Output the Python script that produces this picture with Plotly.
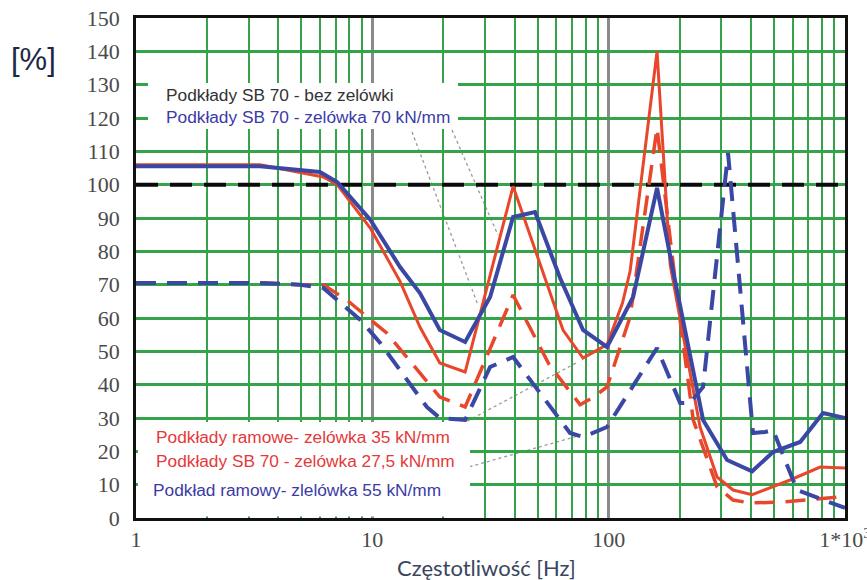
import plotly.graph_objects as go

# ---------------- data ----------------
ref_f = [1, 1000]
ref_v = [100, 100]  # Podkłady SB 70 - bez zelówki

sb70_70_f = [1, 3.35, 6.0, 7.1, 9.8, 13.1, 15.9, 19.3, 24.7, 31.5, 39.4, 48.8,
             62.3, 77.9, 98.4, 126.9, 160.2, 187, 250.9, 317, 404.6, 496, 646, 807, 1000]
sb70_70_v = [105.5, 105.5, 103.8, 100.8, 89.5, 75.3, 67.5, 56.4, 52.8, 66.3, 90.3, 91.8,
             72, 56.4, 51.3, 66.3, 99, 74.4, 29.4, 17.4, 14, 19.8, 22.8, 31.5, 30]

sb70_275_f = [1, 3.35, 6.2, 7.1, 9.8, 13.1, 15.9, 19.3, 24.7, 39.4, 64.1, 77.9, 98.4,
              114.4, 123.2, 160.2, 182, 243.6, 287.6, 336, 404.6, 586, 785, 1000]
sb70_275_v = [106, 106, 102.3, 100, 87, 71, 57.3, 46.5, 43.8, 99.5, 56.4, 48, 52,
              64.5, 74, 140, 76, 27.3, 12.3, 8.4, 7.0, 11.4, 15.3, 15]

ram35_f = [1, 3.35, 4.94, 6.2, 7.8, 11.5, 19.3, 24.7, 39.4, 56, 75.7, 85.1, 98.4,
           123.2, 160.2, 195, 228, 287.6, 336, 396, 547, 953]
ram35_v = [70.5, 70.5, 70, 70, 65.4, 55.5, 36.3, 33.3, 66.9, 46, 34, 36, 39.3,
           60.3, 117, 66, 29.4, 9.3, 5.4, 4.5, 4.8, 6.3]

ram55_f = [1, 3.35, 4.94, 6.2, 8.9, 10.8, 17.0, 19.3, 24.7, 31.5, 39.4, 68.6, 77.9,
           85.1, 98.4, 160.2, 200.6, 221, 250.9, 320, 408, 459, 496, 627, 807, 1000]
ram55_v = [70.5, 70.5, 70, 69, 59.4, 52.5, 33.3, 30, 29.4, 45.3, 48.3, 25.5, 24.3,
           25.5, 27.3, 51, 34.5, 34.5, 39.3, 109.5, 25.5, 25.8, 26.4, 8.4, 5.4, 3]

labels = [
    "Podkłady SB 70 - bez zelówki",
    "Podkłady SB 70 - zelówka 70 kN/mm",
    "Podkłady ramowe- zelówka 35 kN/mm",
    "Podkłady SB 70 - zelówka 27,5 kN/mm",
    "Podkład ramowy- zlelówka 55 kN/mm",
]

x_major = [1, 10, 100, 1000]
x_major_text = ["1", "10", "100", "1*10<sup>3</sup>"]
x_minor = [m * d for d in (1, 10, 100) for m in range(2, 10)]
y_ticks = list(range(0, 151, 10))

# ---------------- style ----------------
RED = "#e8472b"
BLUE = "#3a48a4"
BLACK = "#0a0a0a"
GREEN = "#34a349"
GRAY = "#8a8a8a"
TXT_RED = "#e43a3a"
TXT_BLUE = "#3b3ba6"

fig = go.Figure()
fig.add_trace(go.Scatter(x=ref_f, y=ref_v, mode="lines",
                         line=dict(color=BLACK, width=4, dash="22px,12px"), name=labels[0]))
fig.add_trace(go.Scatter(x=ram35_f, y=ram35_v, mode="lines",
                         line=dict(color=RED, width=3.5, dash="20px,11px"), name=labels[2]))
fig.add_trace(go.Scatter(x=sb70_275_f, y=sb70_275_v, mode="lines",
                         line=dict(color=RED, width=3), name=labels[3]))
fig.add_trace(go.Scatter(x=ram55_f, y=ram55_v, mode="lines",
                         line=dict(color=BLUE, width=4, dash="20px,11px"), name=labels[4]))
fig.add_trace(go.Scatter(x=sb70_70_f, y=sb70_70_v, mode="lines",
                         line=dict(color=BLUE, width=4), name=labels[1]))

L, R, T, B = 136, 22, 18, 62
W, H = 867, 580
PW, PH = W - L - R, H - T - B


def px(xp):
    return (xp - L) / PW


def py(yp):
    return (H - B - yp) / PH


shapes = []
# faint leader lines (beneath the grid)
for (a, b, c, d) in [(412, 132, 478, 305), (452, 130, 498, 235),
                     (462, 424, 578, 362), (458, 470, 578, 436)]:
    shapes.append(dict(type="line", xref="x domain", yref="y domain", layer="below",
                       x0=px(a), y0=py(b), x1=px(c), y1=py(d),
                       line=dict(color="#9a9a9a", width=1.3, dash="dot")))
# white label boxes covering the grid
shapes.append(dict(type="rect", xref="x domain", yref="y domain", layer="above",
                   x0=px(148), x1=px(458), y0=py(129), y1=py(83),
                   fillcolor="white", line=dict(width=0)))
shapes.append(dict(type="rect", xref="x domain", yref="y domain", layer="above",
                   x0=px(138), x1=px(470), y0=py(516.5), y1=py(422),
                   fillcolor="white", line=dict(width=0)))

annotations = []
leg_font = "Liberation Sans, Arial, sans-serif"
for text, xp, yp, col in [(labels[0], 164, 95, "#333333"),
                          (labels[1], 164, 117, TXT_BLUE),
                          (labels[2], 154, 437, TXT_RED),
                          (labels[3], 154, 461, TXT_RED),
                          (labels[4], 151, 490, TXT_BLUE)]:
    annotations.append(dict(text=text, xref="paper", yref="paper", x=px(xp), y=py(yp),
                            xanchor="left", yanchor="middle", showarrow=False,
                            font=dict(family=leg_font, size=17.3, color=col)))
annotations.append(dict(text="[%]", xref="paper", yref="paper", x=px(33), y=py(60),
                        xanchor="center", yanchor="middle", showarrow=False,
                        font=dict(family="Liberation Sans, Arial, sans-serif", size=31,
                                  color="#1c2846")))
annotations.append(dict(text="Częstotliwość [Hz]", xref="paper", yref="paper",
                        x=px(486), y=py(567), xanchor="center", yanchor="middle",
                        showarrow=False,
                        font=dict(family="Lato, Open Sans, sans-serif", size=22,
                                  color="#3a4660")))

tick_font = dict(family="Liberation Serif, Times New Roman, serif", size=22, color="#4a4a4a")

fig.update_layout(
    width=W, height=H,
    margin=dict(l=L, r=R, t=T, b=B, pad=0, autoexpand=False),
    paper_bgcolor="white", plot_bgcolor="white",
    showlegend=False,
    shapes=shapes, annotations=annotations,
    xaxis=dict(type="log", range=[0, 3], tickmode="array", tickvals=x_major,
               ticktext=x_major_text, tickfont=tick_font, ticks="",
               ticklabelstandoff=0, ticklabeloverflow="allow", automargin=False,
               showgrid=True, gridcolor=GRAY, gridwidth=2.5,
               minor=dict(tickmode="array", tickvals=x_minor, showgrid=True,
                          gridcolor=GREEN, gridwidth=2, ticks=""),
               showline=True, mirror=True, linecolor="#111111", linewidth=2.5,
               zeroline=False),
    yaxis=dict(range=[0, 150], tickmode="array", tickvals=y_ticks, tickfont=tick_font,
               ticks="", ticklabelstandoff=9, automargin=False,
               showgrid=True, gridcolor=GREEN, gridwidth=2.5,
               showline=True, mirror=True, linecolor="#111111", linewidth=2.5,
               zeroline=False),
)

fig.write_html("out.html", config={"displayModeBar": False},
               post_script="document.body.style.margin='0';document.body.style.padding='0';")
